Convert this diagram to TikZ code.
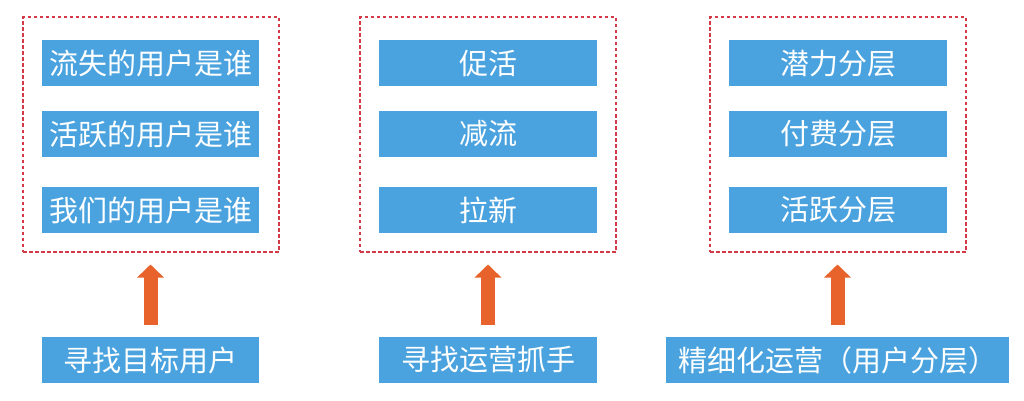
\documentclass[tikz,border=0pt]{standalone}
\usepackage{fontspec}
\newfontfamily\cjk{Noto Sans CJK SC}
\usetikzlibrary{arrows.meta}
\definecolor{boxblue}{HTML}{4AA3DF}
\definecolor{arrorange}{HTML}{E8622C}
\definecolor{framered}{HTML}{D23A48}
\tikzset{
  blue box/.style={fill=boxblue, draw=none, inner sep=0pt, minimum height=46pt, text=white, font=\cjk\fontsize{29}{31}\selectfont},
  frame box/.style={draw=framered, line width=2pt, dash pattern=on 3.5pt off 2.5pt, minimum width=256pt, minimum height=234pt, inner sep=0pt},
  up arrow/.style={draw=arrorange, line width=14pt, -{Triangle[width=26pt,length=13pt]}, shorten <=12pt, shorten >=12pt}
}
\begin{document}
\begin{tikzpicture}[x=1pt,y=-1pt]
\useasboundingbox (0,0) rectangle (1024,401);
% frames
\node[frame box] (f1) at (151,134.5) {};
\node[frame box] (f2) at (488,134.5) {};
\node[frame box] (f3) at (838,134.5) {};
% left column
\node[blue box, minimum width=217pt] (a1) at (150.5,63.5) {流失的用户是谁};
\node[blue box, minimum width=217pt] (a2) at (150.5,134) {活跃的用户是谁};
\node[blue box, minimum width=217pt] (a3) at (150.5,210) {我们的用户是谁};
% middle column
\node[blue box, minimum width=218pt] (b1) at (488,63.5) {促活};
\node[blue box, minimum width=218pt] (b2) at (488,134) {减流};
\node[blue box, minimum width=218pt] (b3) at (488,210) {拉新};
% right column
\node[blue box, minimum width=218pt] (c1) at (838,63.5) {潜力分层};
\node[blue box, minimum width=218pt] (c2) at (838,134) {付费分层};
\node[blue box, minimum width=218pt] (c3) at (838,210) {活跃分层};
% bottom row
\node[blue box, minimum width=217pt] (d1) at (150.5,360) {寻找目标用户};
\node[blue box, minimum width=218pt] (d2) at (488,360) {寻找运营抓手};
\node[blue box, minimum width=343pt] (d3) at (837.5,360) {精细化运营（用户分层）};
% arrows
\draw[up arrow] (d1.north) -- (d1.north |- f1.south);
\draw[up arrow] (d2.north) -- (d2.north |- f2.south);
\draw[up arrow] (d3.north) -- (d3.north |- f3.south);
\end{tikzpicture}
\end{document}
